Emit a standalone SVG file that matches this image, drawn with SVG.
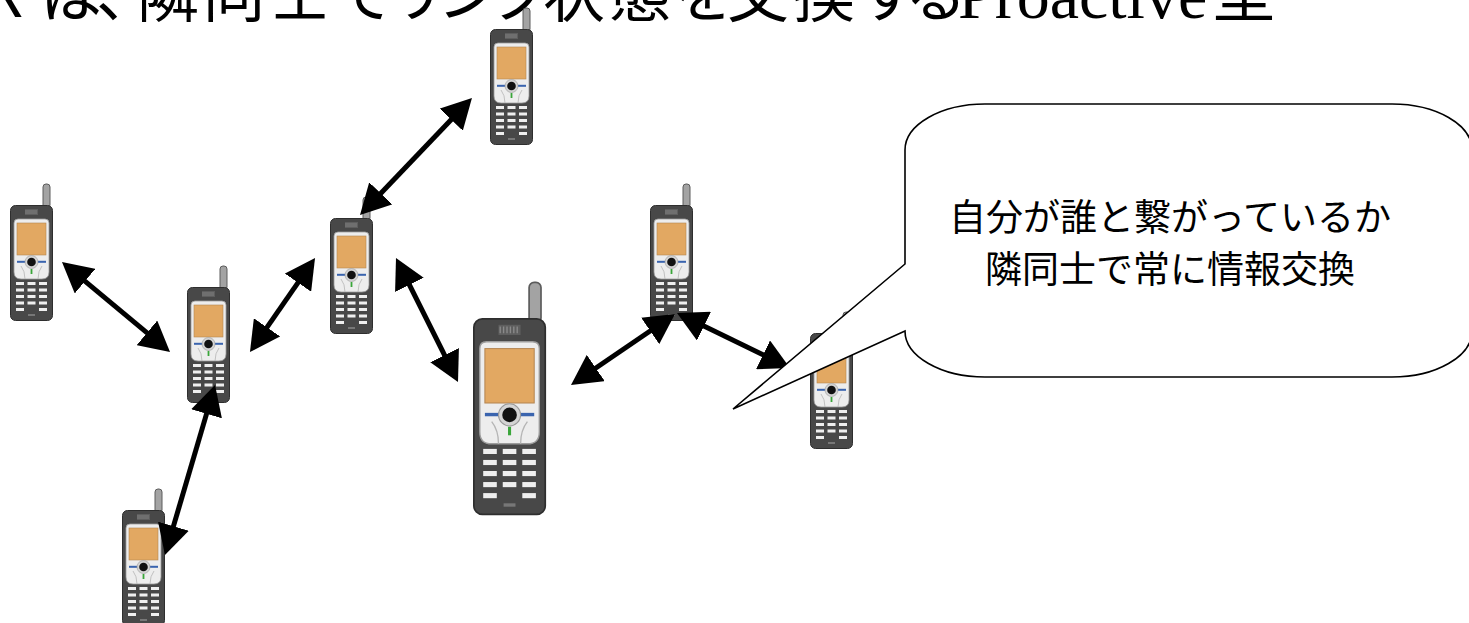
<svg xmlns="http://www.w3.org/2000/svg" xmlns:xlink="http://www.w3.org/1999/xlink" width="1469" height="623" viewBox="0 0 1469 623">
  <style>
    .title { font-family: "Noto Sans CJK JP", "Liberation Sans", sans-serif; font-size: 62px; fill: #000; }
    .title-latin { font-family: "Liberation Serif", "Noto Serif CJK JP", serif; font-size: 66px; fill: #000; }
    .bubble-text { font-family: "Noto Sans CJK JP", "Liberation Sans", sans-serif; font-size: 37px; fill: #000; text-anchor: middle; }
    .link { stroke: #000; stroke-width: 5; fill: none; marker-start: url(#head); marker-end: url(#head); }
    .bubble { fill: #fff; stroke: #000; stroke-width: 1.6; stroke-linejoin: miter; }
    .key { fill: #efefef; }
  </style>
  <defs>
    <marker id="head" viewBox="0 0 30 32" refX="15" refY="16" markerWidth="30" markerHeight="32" markerUnits="userSpaceOnUse" orient="auto-start-reverse">
      <path d="M0,0 L30,16 L0,32 Z" fill="#000"/>
    </marker>
    <!-- handset artwork, body origin at top-left, 43 x 116 -->
    <g id="handset">
      <rect x="33" y="-21" width="7" height="24" rx="3" fill="#a3a3a3" stroke="#5c5c5c" stroke-width="1"/>
      <rect x="0.5" y="0.5" width="42" height="115" rx="5" fill="#484848" stroke="#2e2e2e" stroke-width="1"/>
      <rect x="15" y="4" width="13" height="6" fill="#5e5e5e"/>
      <path d="M16,5 V9 M18,5 V9 M20,5 V9 M22,5 V9 M24,5 V9 M26,5 V9" stroke="#8a8a8a" stroke-width="0.8"/>
      <path d="M4,18 Q4,14 8,14 L35,14 Q39,14 39,18 L39,67 Q39,74 32,74 L11,74 Q4,74 4,67 Z" fill="#ededed" stroke="#9c9c9c" stroke-width="0.8"/>
      <rect x="7" y="18" width="29" height="32" fill="#e2a862" stroke="#b48552" stroke-width="0.6"/>
      <path d="M11,61 Q15,66 15,74 M32,61 Q28,66 28,74" stroke="#b5b5b5" stroke-width="0.8" fill="none"/>
      <rect x="7" y="55.8" width="9" height="2" fill="#3a64ae"/>
      <rect x="27" y="55.8" width="9" height="2" fill="#3a64ae"/>
      <circle cx="21.5" cy="57" r="6.5" fill="#d4d4d4" stroke="#9a9a9a" stroke-width="0.6"/>
      <circle cx="21.5" cy="57" r="4.3" fill="#111"/>
      <rect x="20.6" y="64" width="1.8" height="5" fill="#3aa63a"/>
      <rect class="key" x="6" y="77" width="8" height="3"/>
      <rect class="key" x="17.5" y="77" width="8" height="3"/>
      <rect class="key" x="29" y="77" width="8" height="3"/>
      <rect class="key" x="6" y="83.5" width="8" height="3"/>
      <rect class="key" x="17.5" y="83.5" width="8" height="3"/>
      <rect class="key" x="29" y="83.5" width="8" height="3"/>
      <rect class="key" x="6" y="90" width="8" height="3"/>
      <rect class="key" x="17.5" y="90" width="8" height="3"/>
      <rect class="key" x="29" y="90" width="8" height="3"/>
      <rect class="key" x="6" y="96.5" width="8" height="3"/>
      <rect class="key" x="17.5" y="96.5" width="8" height="3"/>
      <rect class="key" x="29" y="96.5" width="8" height="3"/>
      <rect class="key" x="6" y="103" width="8" height="3"/>
      <rect class="key" x="29" y="103" width="8" height="3"/>
      <rect x="18" y="109" width="7" height="2" fill="#777"/>
    </g>
  </defs>

  <rect width="1469" height="623" fill="#fff"/>

  <!-- heading, clipped by the top edge; glyphs placed one by one for proportional spacing -->
  <text class="title" y="17" x="-16 40 96 137 203 269 333 385 437 489 543 609 673 727 793 857 905">Rは、隣同士でリンク状態を交換する</text>
  <text class="title-latin" x="958" y="18">Proactive</text>
  <text class="title" x="1213" y="17">型</text>

  <!-- handsets -->
  <g id="node-top"><use xlink:href="#handset" href="#handset" transform="translate(490,29)"/></g>
  <g id="node-left"><use xlink:href="#handset" href="#handset" transform="translate(10,205)"/></g>
  <g id="node-mid-left"><use xlink:href="#handset" href="#handset" transform="translate(187,287)"/></g>
  <g id="node-mid"><use xlink:href="#handset" href="#handset" transform="translate(330,218)"/></g>
  <g id="node-self"><use xlink:href="#handset" href="#handset" transform="translate(473,318) scale(1.7)"/></g>
  <g id="node-right"><use xlink:href="#handset" href="#handset" transform="translate(650,205)"/></g>
  <g id="node-far-right"><use xlink:href="#handset" href="#handset" transform="translate(810,333)"/></g>
  <g id="node-bottom"><use xlink:href="#handset" href="#handset" transform="translate(122,510)"/></g>

  <!-- two-way links -->
  <g id="links">
    <line class="link" x1="461.6" y1="108.8" x2="370.4" y2="204.2"/>
    <line class="link" x1="73.5" y1="271.6" x2="158.5" y2="342.4"/>
    <line class="link" x1="258.5" y1="339.7" x2="306.5" y2="270.3"/>
    <line class="link" x1="402.7" y1="271.4" x2="451.3" y2="368.6"/>
    <line class="link" x1="210.8" y1="399.4" x2="169.2" y2="540.6"/>
    <line class="link" x1="583.4" y1="376.5" x2="662.6" y2="322.5"/>
    <line class="link" x1="690.5" y1="319.6" x2="776.5" y2="361.4"/>
  </g>

  <!-- speech bubble -->
  <g id="callout">
    <path class="bubble" d="M985,104 L1392,104 A80,46 0 0 1 1472,150 L1472,331 A80,46 0 0 1 1392,377 L985,377 A80,46 0 0 1 905,331 L733,409 L905,264 L905,150 A80,46 0 0 1 985,104 Z"/>
    <text class="bubble-text" x="1170" y="231">自分が誰と繋がっているか</text>
    <text class="bubble-text" x="1170" y="283">隣同士で常に情報交換</text>
  </g>
</svg>
